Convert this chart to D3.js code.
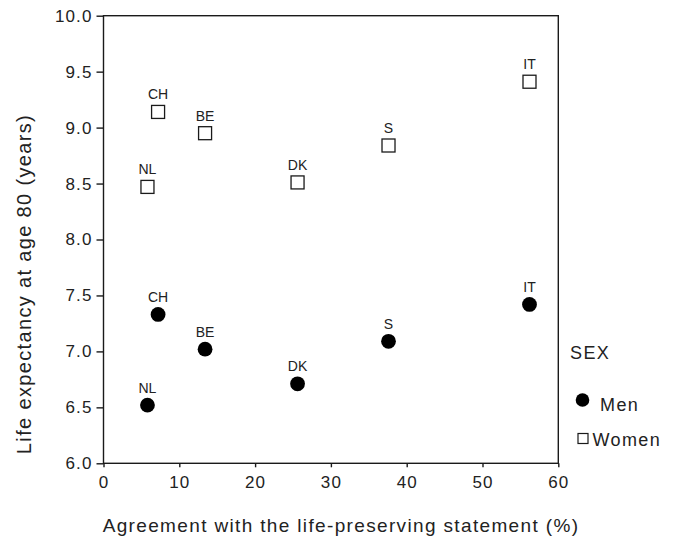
<!DOCTYPE html>
<html>
<head>
<meta charset="utf-8">
<script src="https://cdn.jsdelivr.net/npm/d3@7/dist/d3.min.js"></script>
<style>
  html, body { margin: 0; padding: 0; background: #fff; }
  svg { display: block; font-family: "Liberation Sans", Arial, sans-serif; }
</style>
</head>
<body>
<svg id="chart" width="678" height="554"></svg>
<script>
// Country codes and their agreement (%) with the life-preserving statement
const countries = ["NL", "CH", "BE", "DK", "S", "IT"];
const agreement = [5.8, 7.2, 13.4, 25.6, 37.6, 56.2];

// Life expectancy at age 80 (years)
const menLE   = [6.52, 7.33, 7.02, 6.71, 7.09, 7.42];
const womenLE = [8.47, 9.14, 8.95, 8.51, 8.84, 9.41];

const xTicks = [0, 10, 20, 30, 40, 50, 60];
const yTicks = [6.0, 6.5, 7.0, 7.5, 8.0, 8.5, 9.0, 9.5, 10.0];
const seriesNames = ["Men", "Women"];

const svg = d3.select("#chart");
const ink = "#1a1a1a";

const plot = { left: 103.5, right: 558.3, top: 15.7, bottom: 463.3 };
const x = d3.scaleLinear().domain([0, 60]).range([plot.left, plot.right]);
const y = d3.scaleLinear().domain([6, 10]).range([plot.bottom, plot.top]);

// Plot frame
svg.append("rect")
  .attr("x", plot.left).attr("y", plot.top)
  .attr("width", plot.right - plot.left).attr("height", plot.bottom - plot.top)
  .attr("fill", "none").attr("stroke", ink).attr("stroke-width", 1.4);

// Axes
const xAxis = svg.append("g")
  .attr("transform", `translate(0,${plot.bottom})`)
  .call(d3.axisBottom(x).tickValues(xTicks).tickSize(4).tickPadding(5).tickFormat(d3.format("d")));
const yAxis = svg.append("g")
  .attr("transform", `translate(${plot.left},0)`)
  .call(d3.axisLeft(y).tickValues(yTicks).tickSize(7).tickPadding(4).tickFormat(d3.format(".1f")));

[xAxis, yAxis].forEach(g => {
  g.select(".domain").remove();
  g.selectAll(".tick line").attr("stroke", ink).attr("stroke-width", 1.4);
  g.selectAll(".tick text")
    .attr("fill", "#222")
    .style("font-family", "'Liberation Sans', Arial, sans-serif")
    .style("font-size", "17px")
    .style("letter-spacing", "1.1px");
});
xAxis.selectAll(".tick text").attr("dy", "0.95em");

// Axis titles
svg.append("text")
  .attr("x", 341).attr("y", 531.5)
  .attr("text-anchor", "middle")
  .attr("fill", "#222")
  .style("font-size", "19px")
  .style("letter-spacing", "1.35px")
  .text("Agreement with the life-preserving statement (%)");

svg.append("text")
  .attr("transform", "translate(31,284) rotate(-90)")
  .attr("text-anchor", "middle")
  .attr("fill", "#222")
  .style("font-size", "20px")
  .style("letter-spacing", "1.35px")
  .text("Life expectancy at age 80 (years)");

// Men: filled circles
const men = countries.map((c, i) => ({ c, a: agreement[i], v: menLE[i] }));
const women = countries.map((c, i) => ({ c, a: agreement[i], v: womenLE[i] }));

svg.append("g").selectAll("circle").data(men).join("circle")
  .attr("cx", d => x(d.a)).attr("cy", d => y(d.v))
  .attr("r", 7.4).attr("fill", "#000");

// Women: open squares
const sq = 13;
svg.append("g").selectAll("rect").data(women).join("rect")
  .attr("x", d => x(d.a) - sq / 2).attr("y", d => y(d.v) - sq / 2)
  .attr("width", sq).attr("height", sq)
  .attr("fill", "#fff").attr("stroke", ink).attr("stroke-width", 1.3);

// Country labels above each marker
const labels = svg.append("g")
  .attr("fill", "#222")
  .style("font-size", "14px")
  .attr("text-anchor", "middle");
labels.selectAll("text.m").data(men).join("text").attr("class", "m")
  .attr("x", d => x(d.a)).attr("y", d => y(d.v) - 12.5)
  .text(d => d.c);
labels.selectAll("text.w").data(women).join("text").attr("class", "w")
  .attr("x", d => x(d.a)).attr("y", d => y(d.v) - 12.5)
  .text(d => d.c);

// Legend
const legend = svg.append("g").attr("fill", "#222")
  .style("font-size", "18px").style("letter-spacing", "1.4px");
legend.append("text").attr("x", 570).attr("y", 359).text("SEX");
legend.append("circle").attr("cx", 582.5).attr("cy", 400).attr("r", 6.8).attr("fill", "#000");
legend.append("text").attr("x", 600).attr("y", 411).text(seriesNames[0]);
legend.append("rect").attr("x", 578).attr("y", 433.5).attr("width", 10).attr("height", 10)
  .attr("fill", "#fff").attr("stroke", ink).attr("stroke-width", 1.2);
legend.append("text").attr("x", 592.5).attr("y", 446).text(seriesNames[1]);
</script>
</body>
</html>
